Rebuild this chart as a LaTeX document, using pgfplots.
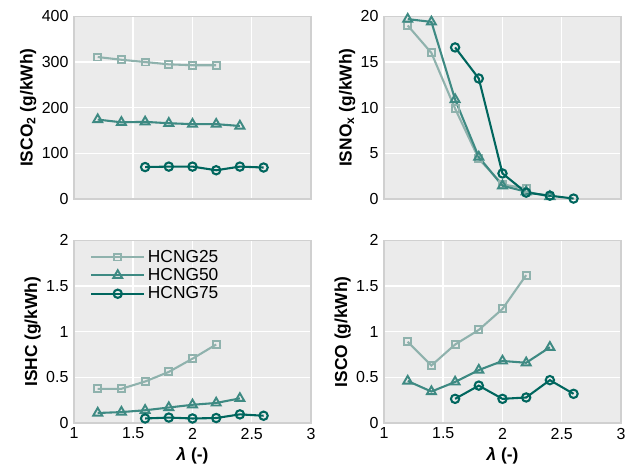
\documentclass[border=0pt]{standalone}
\usepackage{pgfplots}
\pgfplotsset{compat=1.18}
\usepackage{fontspec}
\setmainfont{Liberation Sans}

\definecolor{hc25}{RGB}{143,178,173}
\definecolor{hc50}{RGB}{62,138,131}
\definecolor{hc75}{RGB}{0,102,94}
\definecolor{panelbg}{RGB}{235,235,235}
\definecolor{frame}{RGB}{208,208,208}

\pgfplotsset{
  panel/.style={
    scale only axis,
    width=170.6pt, height=131.5pt,
    anchor=south west,
    axis background/.style={fill=panelbg},
    axis line style={frame, line width=1.1pt},
    grid=major,
    major grid style={white, line width=1.1pt},
    tick style={draw=none},
    xmin=1, xmax=3,
    xtick={1,1.5,2,2.5,3},
    tick label style={font=\fontsize{11.5}{13}\selectfont},
    label style={font=\fontsize{12.5}{14}\selectfont\bfseries},
    /pgf/number format/assume math mode=true,
    yticklabel style={xshift=-0.5pt},
    ylabel shift=-3pt,
    xlabel shift=-1pt,
  },
  s25/.style={color=hc25, line width=1.5pt, mark=square, mark size=2.5pt, mark options={fill=white, solid, line width=1.4pt}},
  s50/.style={color=hc50, line width=1.5pt, mark=triangle, mark size=3.7pt, mark options={fill=white, solid, line width=1.4pt}},
  s75/.style={color=hc75, line width=1.5pt, mark=o, mark size=3pt, mark options={fill=white, solid, line width=1.5pt}},
}

\begin{document}
\begin{tikzpicture}
\useasboundingbox (0,0) rectangle (456.5pt,337.7pt);

% ISCO2
\begin{axis}[panel, at={(53.3pt,194.4pt)},
  ymin=0, ymax=400, ytick={0,100,200,300,400},
  xticklabels={},
  ylabel={ISCO\textsubscript{2} (g/kWh)}]
\addplot[s25] coordinates {(1.2,311) (1.4,305) (1.6,300) (1.8,295) (2.0,293) (2.2,293)};
\addplot[s50] coordinates {(1.2,174) (1.4,168) (1.6,169) (1.8,166) (2.0,164) (2.2,164) (2.4,160)};
\addplot[s75] coordinates {(1.6,70) (1.8,71) (2.0,71) (2.2,63) (2.4,71) (2.6,69)};
\end{axis}

% ISNOx
\begin{axis}[panel, at={(276.5pt,194.4pt)},
  ymin=0, ymax=20, ytick={0,5,10,15,20},
  xticklabels={},
  ylabel={ISNO\textsubscript{x} (g/kWh)}]
\addplot[s25] coordinates {(1.2,19.0) (1.4,16.0) (1.6,9.9) (1.8,4.4) (2.0,1.6) (2.2,1.15)};
\addplot[s50] coordinates {(1.2,19.7) (1.4,19.4) (1.6,10.9) (1.8,4.6) (2.0,1.45) (2.2,0.8) (2.4,0.28)};
\addplot[s75] coordinates {(1.6,16.6) (1.8,13.2) (2.0,2.8) (2.2,0.7) (2.4,0.37) (2.6,0.05)};
\end{axis}

% ISHC
\begin{axis}[panel, at={(53.3pt,33.1pt)},
  ymin=0, ymax=2, ytick={0,0.5,1,1.5,2},
  yticklabels={0,0.5,1,1.5,2},
  xticklabels={1,1.5,2,2.5,3},
  xlabel={\itshape λ\upshape\ (-)},
  ylabel={ISHC (g/kWh)},
  legend style={at={(0.05,0.98)}, anchor=north west, draw=none, fill=none,
    font=\fontsize{12.5}{13}\selectfont, row sep=-1pt,
    /tikz/every even column/.append style={column sep=2pt}},
  legend cell align=left,
  legend image code/.code={\draw[mark repeat=2, mark phase=2] plot coordinates {(0pt,0pt) (19pt,0pt) (38pt,0pt)};}]
\addplot[s25] coordinates {(1.2,0.375) (1.4,0.375) (1.6,0.455) (1.8,0.56) (2.0,0.705) (2.2,0.86)};
\addlegendentry{HCNG25}
\addplot[s50] coordinates {(1.2,0.11) (1.4,0.12) (1.6,0.14) (1.8,0.17) (2.0,0.20) (2.2,0.22) (2.4,0.27)};
\addlegendentry{HCNG50}
\addplot[s75] coordinates {(1.6,0.05) (1.8,0.06) (2.0,0.05) (2.2,0.055) (2.4,0.095) (2.6,0.08)};
\addlegendentry{HCNG75}
\end{axis}

% ISCO
\begin{axis}[panel, at={(276.5pt,33.1pt)},
  ymin=0, ymax=2, ytick={0,0.5,1,1.5,2},
  yticklabels={0,0.5,1,1.5,2},
  xticklabels={1,1.5,2,2.5,3},
  xlabel={\itshape λ\upshape\ (-)},
  ylabel={ISCO (g/kWh)}]
\addplot[s25] coordinates {(1.2,0.89) (1.4,0.63) (1.6,0.86) (1.8,1.02) (2.0,1.25) (2.2,1.62)};
\addplot[s50] coordinates {(1.2,0.46) (1.4,0.345) (1.6,0.45) (1.8,0.58) (2.0,0.68) (2.2,0.66) (2.4,0.83)};
\addplot[s75] coordinates {(1.6,0.265) (1.8,0.41) (2.0,0.265) (2.2,0.28) (2.4,0.47) (2.6,0.32)};
\end{axis}
\end{tikzpicture}
\end{document}
